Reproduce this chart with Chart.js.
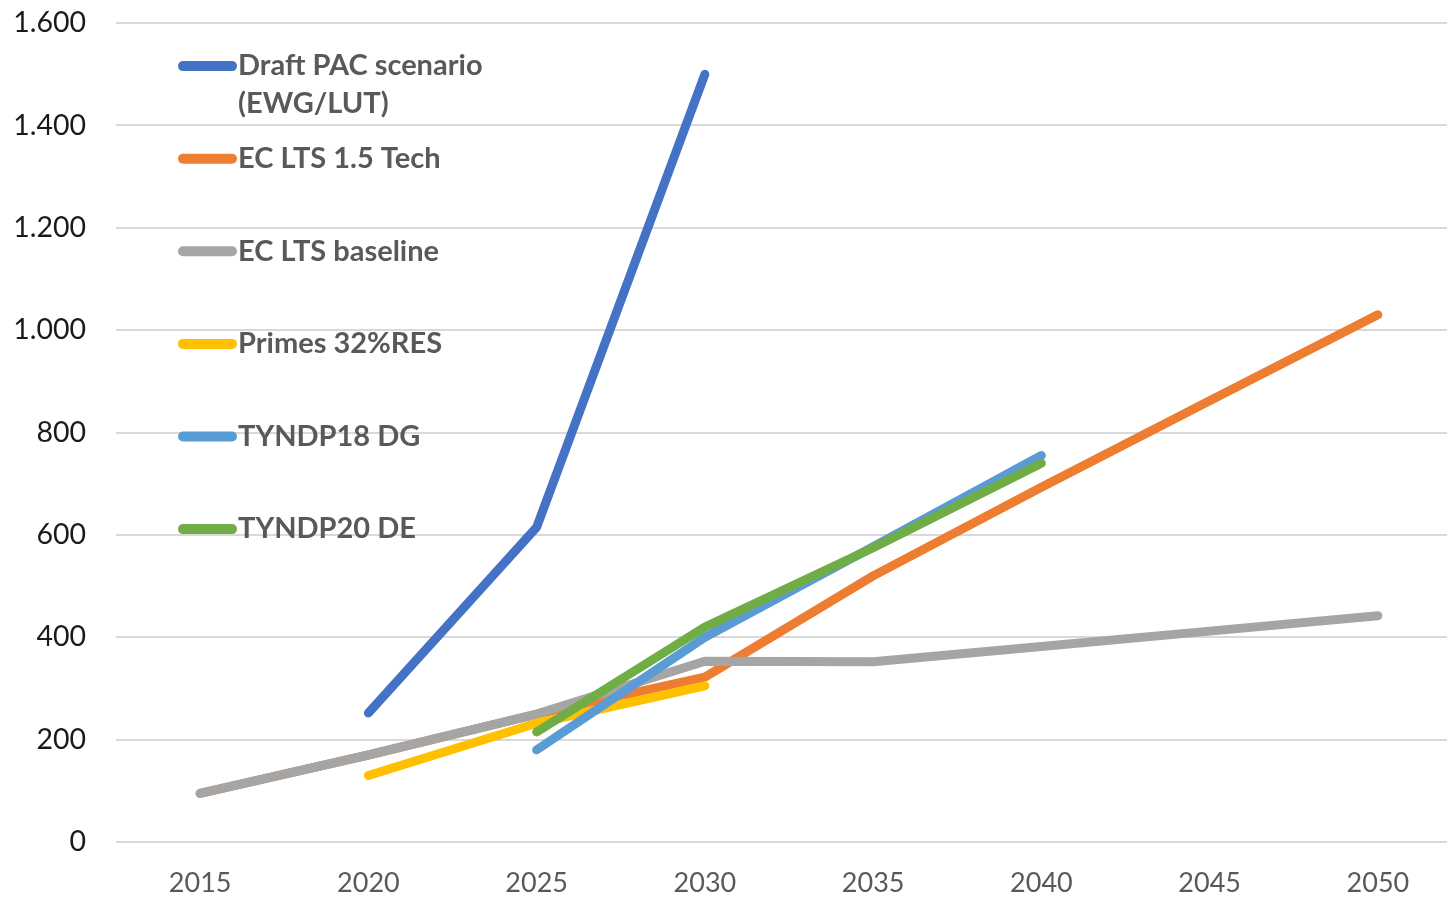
<!DOCTYPE html>
<html>
<head>
<meta charset="utf-8">
<script src="https://cdn.jsdelivr.net/npm/chart.js@4.4.0/dist/chart.umd.min.js"></script>
<style>
  html, body { margin: 0; padding: 0; background: #fff; overflow: hidden; }
  #wrap { width: 1447px; height: 897px; overflow: hidden; position: relative; }
  #c { position: absolute; left: 0; top: -24px; }
</style>
</head>
<body>
<div id="wrap"><canvas id="c" width="1462" height="921"></canvas></div>
<script>
const years = ["2015", "2020", "2025", "2030", "2035", "2040", "2045", "2050"];
const seriesNames = ["Draft PAC scenario (EWG/LUT)", "EC LTS 1.5 Tech", "EC LTS baseline", "Primes 32%RES", "TYNDP18 DG", "TYNDP20 DE"];
const draftPAC   = [null, 252, 615, 1500, null, null, null, null];
const ecLts15    = [95, 170, 250, 322, 520, 693, 862, 1030];
const ecBaseline = [95, 170, 250, 353, 352, 382, 412, 442];
const primes32   = [null, 130, 232, 305, null, null, null, null];
const tyndp18    = [null, null, 180, 400, 577, 755, null, null];
const tyndp20    = [null, null, 215, 420, 575, 740, null, null];
const colors = ["#4472C4", "#ED7D31", "#A5A5A5", "#FFC000", "#5B9BD5", "#70AD47"];
const allSeries = [draftPAC, ecLts15, ecBaseline, primes32, tyndp18, tyndp20];

const datasets = allSeries.map((d, i) => ({
  label: seriesNames[i],
  data: d,
  borderColor: colors[i],
  backgroundColor: colors[i],
  borderWidth: 9,
  borderCapStyle: 'round',
  borderJoinStyle: 'round',
  pointRadius: 0,
  pointHoverRadius: 0,
  tension: 0,
  spanGaps: false,
  fill: false,
  order: allSeries.length - i
}));

const legendPlugin = {
  id: 'customLegend',
  afterDatasetsDraw(chart) {
    const ctx = chart.ctx;
    const area = chart.chartArea;
    const x0 = area.left + 62;
    const lineLen = 59;
    let y = area.top + 43;
    const step = 92.6;
    ctx.save();
    ctx.font = 'bold 29px Lato';
    ctx.textBaseline = 'middle';
    ctx.textAlign = 'left';
    chart.data.datasets.forEach((ds) => {
      ctx.strokeStyle = ds.borderColor;
      ctx.lineWidth = 10;
      ctx.lineCap = 'round';
      ctx.beginPath();
      ctx.moveTo(x0 + 5, y);
      ctx.lineTo(x0 + lineLen - 5, y);
      ctx.stroke();
      const words = ds.label.split(' ');
      const lines = [];
      let cur = '';
      words.forEach(w => {
        const t = cur ? cur + ' ' + w : w;
        if (ctx.measureText(t).width > 260 && cur) { lines.push(cur); cur = w; } else { cur = t; }
      });
      lines.push(cur);
      ctx.fillStyle = '#595959';
      lines.forEach((ln, k) => ctx.fillText(ln, x0 + lineLen + 1, y + k * 38));
      y += step;
    });
    ctx.restore();
  }
};

new Chart(document.getElementById('c'), {
  type: 'line',
  data: { labels: years, datasets },
  options: {
    responsive: false,
    animation: false,
    locale: 'de-DE',
    layout: { padding: { top: 21, right: 0, bottom: 0, left: 0 } },
    plugins: { legend: { display: false }, tooltip: { enabled: false } },
    scales: {
      x: {
        offset: true,
        grid: { display: false, drawTicks: false },
        border: { display: false },
        ticks: { color: '#595959', font: { family: 'Lato', size: 27 }, padding: 25, maxRotation: 0 },
        afterFit: (s) => { s.height = 55; }
      },
      y: {
        min: 0, max: 1600,
        ticks: { stepSize: 200, color: '#1a1a1a', font: { family: 'Lato', size: 28.5 }, padding: 30 },
        grid: { color: '#d9d9d9', lineWidth: 2, drawTicks: false },
        border: { display: false },
        afterFit: (s) => { s.width = 116; }
      }
    }
  },
  plugins: [legendPlugin]
});
</script>
</body>
</html>
